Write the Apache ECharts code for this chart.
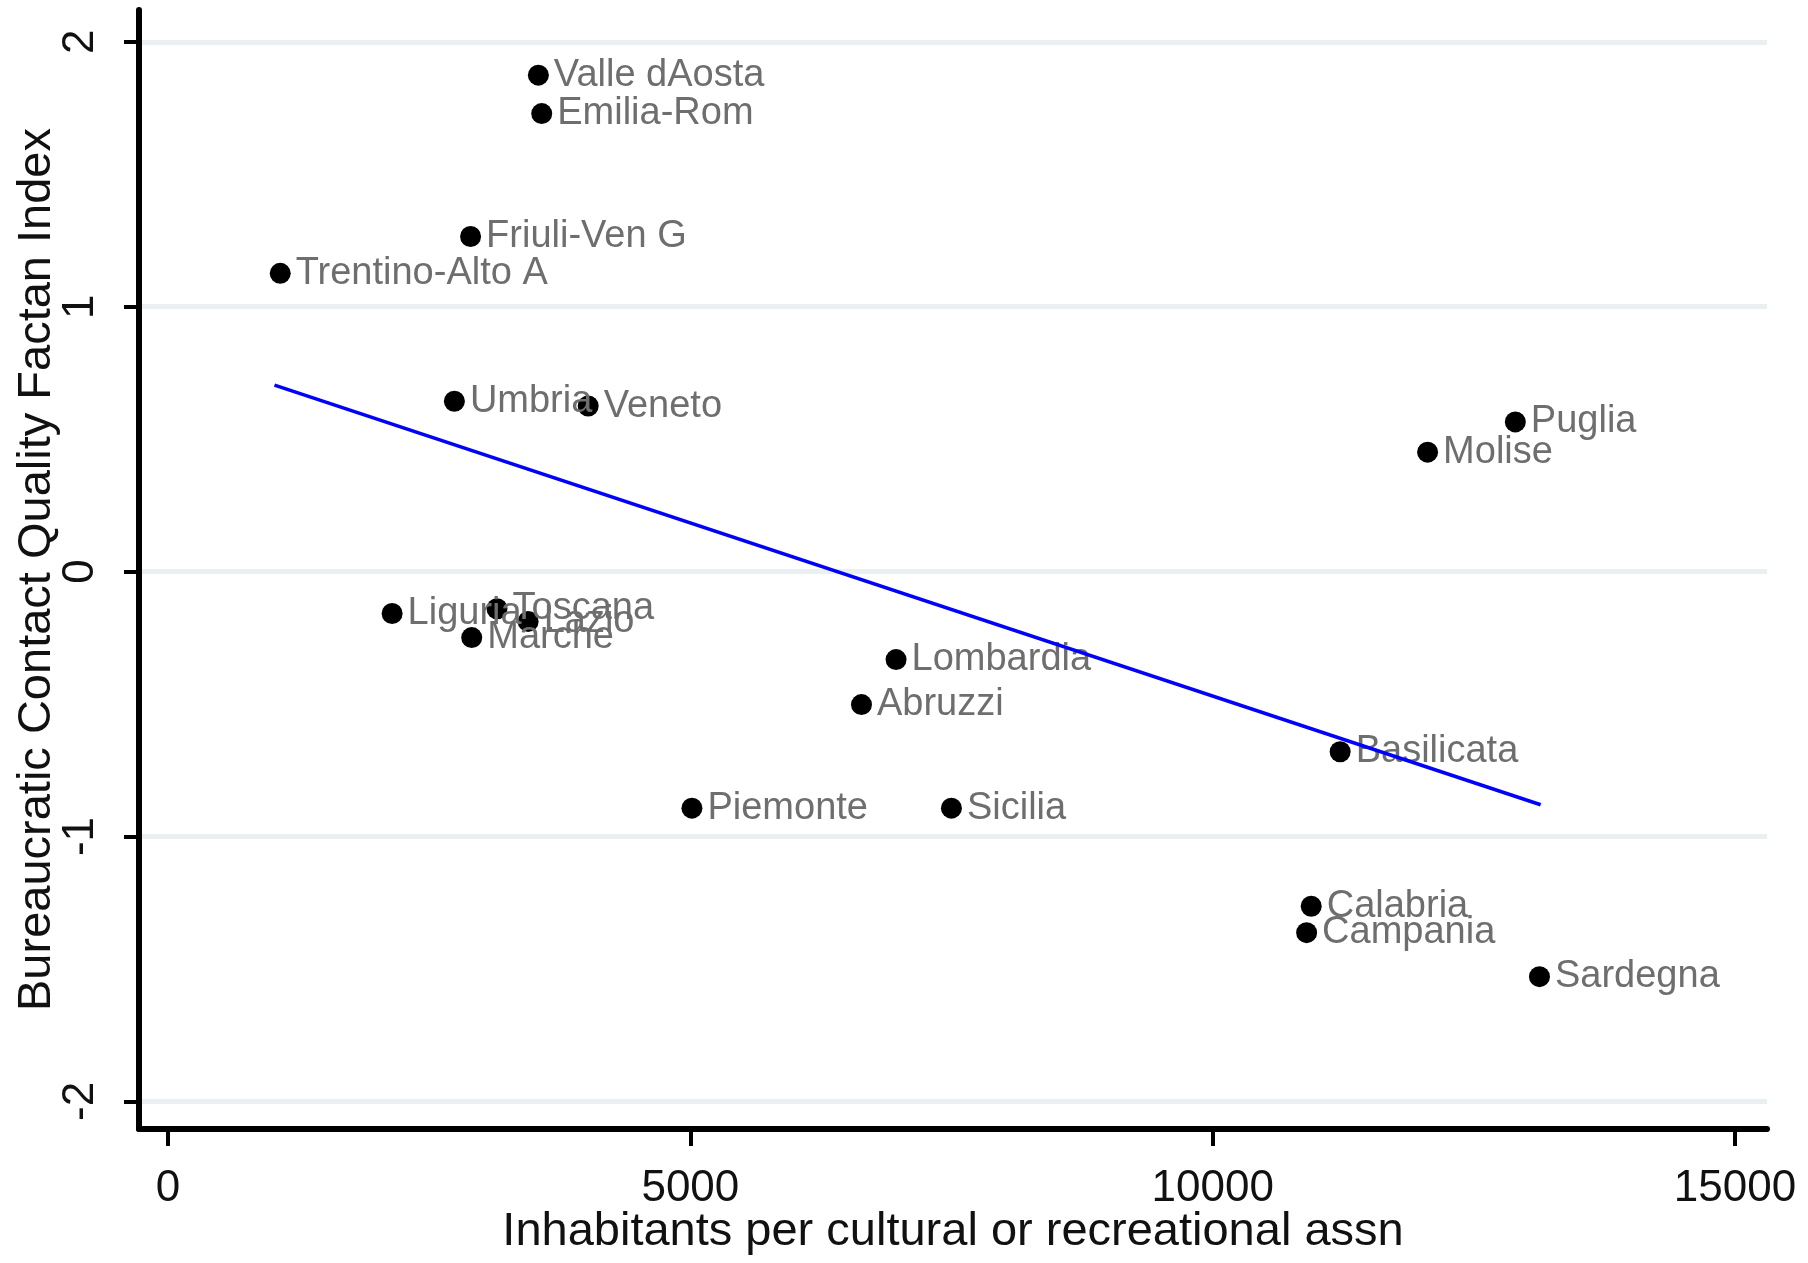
<!DOCTYPE html>
<html>
<head>
<meta charset="utf-8">
<title>Bureaucratic contact quality vs. associational density</title>
<script src="https://cdn.jsdelivr.net/npm/echarts@6/dist/echarts.min.js"></script>
<style>
  html, body { margin: 0; padding: 0; background: #ffffff; }
  #chart { width: 1808px; height: 1263px; }
</style>
</head>
<body>
<div id="chart"></div>
<script>
// Italian regions
const regions = [
  'Valle dAosta', 'Emilia-Rom', 'Friuli-Ven G', 'Trentino-Alto A', 'Umbria',
  'Veneto', 'Puglia', 'Molise', 'Liguria', 'Toscana', 'Lazio', 'Marche',
  'Lombardia', 'Abruzzi', 'Basilicata', 'Piemonte', 'Sicilia', 'Calabria',
  'Campania', 'Sardegna'
];
// Inhabitants per cultural or recreational association
const inhabitantsPerAssn = [
  3545, 3577, 2896, 1074, 2741,
  4022, 12897, 12057, 2145, 3149, 3447, 2907,
  6969, 6638, 11220, 5015, 7499, 10943,
  10899, 13128
];
// Bureaucratic contact quality factor index
const contactQuality = [
  1.874, 1.729, 1.265, 1.126, 0.643,
  0.625, 0.565, 0.451, -0.158, -0.140, -0.188, -0.249,
  -0.332, -0.502, -0.680, -0.893, -0.893, -1.263,
  -1.363, -1.529
];
// Fitted regression line end points
const fitX = [1019, 13139];
const fitY = [0.704, -0.880];

// Axis ticks
const xTicks = [0, 5000, 10000, 15000];
const yTicks = [-2, -1, 0, 1, 2];

const FONT = '"Liberation Sans", Arial, "DejaVu Sans", sans-serif';

const points = regions.map((name, i) => ({
  name: name,
  value: [inhabitantsPerAssn[i], contactQuality[i]]
}));
const fitLine = fitX.map((x, i) => [x, fitY[i]]);

const chart = echarts.init(document.getElementById('chart'), null, { renderer: 'canvas' });

chart.setOption({
  animation: false,
  backgroundColor: '#ffffff',
  grid: {
    left: 139, right: 41, top: 10, bottom: 134,
    containLabel: false,
    outerBoundsMode: 'none'
  },
  xAxis: {
    type: 'value',
    min: -278,
    max: 15306,
    name: 'Inhabitants per cultural or recreational assn',
    nameLocation: 'middle',
    nameGap: 80,
    nameMoveOverlap: false,
    nameTextStyle: { fontFamily: FONT, fontSize: 47, color: '#111111' },
    axisLine: { show: true, onZero: false, lineStyle: { color: '#000000', width: 6, cap: 'round' } },
    axisTick: { show: true, length: 17, customValues: xTicks, lineStyle: { color: '#000000', width: 4 } },
    axisLabel: {
      show: true, customValues: xTicks, margin: 38,
      fontFamily: FONT, fontSize: 44, color: '#111111',
      formatter: v => String(v)
    },
    splitLine: { show: false }
  },
  yAxis: {
    type: 'value',
    min: -2.104,
    max: 2.12,
    name: 'Bureaucratic Contact Quality Factan Index',
    nameLocation: 'middle',
    nameGap: 78,
    nameMoveOverlap: false,
    nameRotate: 90,
    nameTextStyle: { fontFamily: FONT, fontSize: 47, color: '#111111' },
    axisLine: { show: true, onZero: false, lineStyle: { color: '#000000', width: 6, cap: 'round' } },
    axisTick: { show: true, length: 15, customValues: yTicks, lineStyle: { color: '#000000', width: 4 } },
    axisLabel: {
      show: true, customValues: yTicks, margin: 36, rotate: 90,
      fontFamily: FONT, fontSize: 44, color: '#111111',
      formatter: v => String(v)
    },
    splitLine: { show: true, lineStyle: { color: '#eaf0f2', width: 5 } }
  },
  series: [
    {
      type: 'scatter',
      z: 2,
      data: points,
      symbol: 'circle',
      symbolSize: 21,
      itemStyle: { color: '#000000', opacity: 1 },
      label: {
        show: true,
        position: 'right',
        distance: 5,
        formatter: p => p.name,
        fontFamily: FONT,
        fontSize: 38,
        color: '#6e6e6e'
      },
      emphasis: { disabled: true }
    },
    {
      type: 'line',
      z: 3,
      data: fitLine,
      showSymbol: false,
      symbol: 'none',
      lineStyle: { color: '#0000ff', width: 3.5 },
      itemStyle: { color: '#0000ff' },
      emphasis: { disabled: true }
    }
  ]
});
</script>
</body>
</html>
